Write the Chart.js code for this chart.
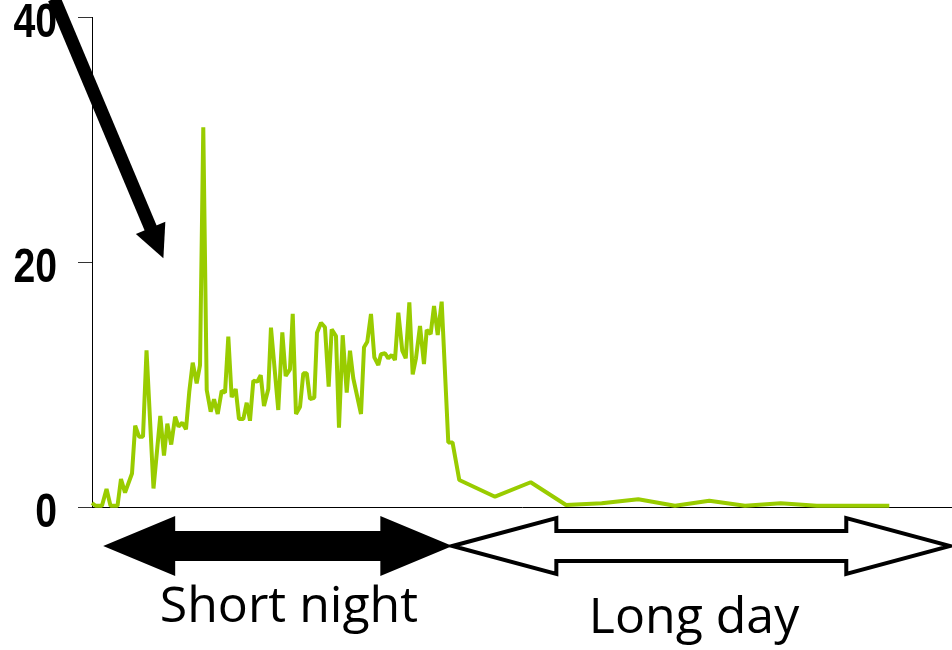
<!DOCTYPE html>
<html>
<head>
<meta charset="utf-8">
<script src="https://cdn.jsdelivr.net/npm/chart.js@4.4.1/dist/chart.umd.min.js"></script>
<style>
  html, body { margin: 0; padding: 0; background: #fff; }
  #wrap { width: 952px; height: 650px; }
</style>
</head>
<body>
<div id="wrap"><canvas id="lineChart" width="952" height="650"></canvas></div>
<script>
// time along the run (arbitrary units, 0..100 across the plot)
const times = [0,0.41,1.16,1.69,2.15,2.97,3.37,3.84,4.65,5.02,
  5.47,5.93,6.34,7.15,7.94,8.37,8.76,9.21,9.67,10.06,
  10.5,10.93,11.31,11.71,12.17,12.56,12.94,13.34,13.8,14.19,
  14.62,15.08,15.47,15.85,16.24,16.71,17.09,17.59,17.99,18.37,
  18.76,19.22,19.62,20,20.5,20.81,21.66,22.13,22.52,23.02,
  23.34,23.72,24.19,24.57,24.97,25.35,25.85,26.16,26.63,27.09,
  27.52,27.87,28.37,28.72,29.15,29.62,30,30.38,31.28,31.63,
  32.01,32.44,32.83,33.29,33.6,34.07,34.45,34.85,35.23,35.62,
  36.08,36.48,36.9,37.29,37.67,38.14,38.6,38.92,39.38,39.77,
  40.2,40.66,41.43,41.92,42.71,46.86,51.01,55.12,59.27,63.52,
  67.79,71.78,75.93,80.08,84.27,88.52,92.71];

const values = [0.33,0.1,0.1,1.47,0.1,0.1,2.29,1.17,2.73,6.65,
  5.74,5.74,12.78,1.51,7.43,4.2,6.8,5.1,7.37,6.56,
  6.88,6.34,9.41,11.78,10.1,11.59,31.0,9.55,7.78,8.79,
  7.59,9.49,9.33,13.9,8.96,9.63,7.18,7.18,8.51,7.04,
  10.31,10.23,10.75,8.24,9.63,14.64,7.92,14.26,10.69,11.24,
  15.76,7.59,8.19,10.91,10.91,8.82,8.92,14.23,15.04,14.67,
  9.82,14.51,13.96,6.47,14.02,9.33,12.76,10.51,7.59,13.04,
  13.49,15.76,12.22,11.59,12.47,12.55,12.14,12.41,12,15.86,
  12.76,12.14,16.71,10.83,12.14,14.78,11.67,14.45,14.12,16.41,
  14.04,16.76,5.27,5.27,2.2,0.84,2.02,0.16,0.3,0.63,
  0.1,0.51,0.1,0.3,0.1,0.1,0.1];

const yTicks = [0, 20, 40];

// periods shown under the axis
const periodLabels = ['Short night', 'Long day'];
const periodStart = [1.3, 41.9];
const periodEnd = [41.9, 99.8];
const periodTextAt = [22.9, 70.0];
const periodFilled = [true, false];

// pointer arrow (data coords): tail -> tip
const pointerFrom = { x: -4.4, y: 41.5 };
const pointerTo = { x: 8.3, y: 20.3 };

const points = times.map((t, i) => ({ x: t, y: values[i] }));

function doubleArrow(ctx, x1, x2, yc, headLen, headHalf, shaftHalf) {
  ctx.beginPath();
  ctx.moveTo(x1, yc);
  ctx.lineTo(x1 + headLen, yc - headHalf);
  ctx.lineTo(x1 + headLen, yc - shaftHalf);
  ctx.lineTo(x2 - headLen, yc - shaftHalf);
  ctx.lineTo(x2 - headLen, yc - headHalf);
  ctx.lineTo(x2, yc);
  ctx.lineTo(x2 - headLen, yc + headHalf);
  ctx.lineTo(x2 - headLen, yc + shaftHalf);
  ctx.lineTo(x1 + headLen, yc + shaftHalf);
  ctx.lineTo(x1 + headLen, yc + headHalf);
  ctx.closePath();
}

// narrow bold tick labels (no narrow font installed, so squeeze Liberation Sans)
const narrowTicks = {
  id: 'narrowTicks',
  afterDraw(chart) {
    const ctx = chart.ctx, ys = chart.scales.y;
    ctx.save();
    ctx.fillStyle = '#000';
    ctx.font = 'bold 49px "Liberation Sans"';
    ctx.textAlign = 'right';
    ctx.textBaseline = 'alphabetic';
    ys.ticks.forEach(t => {
      const y = ys.getPixelForValue(t.value);
      ctx.save();
      ctx.translate(57, y + 20);
      ctx.scale(0.8, 1);
      ctx.fillText(String(t.value), 0, 0);
      ctx.restore();
    });
    ctx.restore();
  }
};

const decorations = {
  id: 'decorations',
  afterDraw(chart) {
    const ctx = chart.ctx;
    const xs = chart.scales.x, ys = chart.scales.y;
    ctx.save();
    // period arrows + labels
    for (let i = 0; i < periodLabels.length; i++) {
      const a = xs.getPixelForValue(periodStart[i]);
      const b = xs.getPixelForValue(periodEnd[i]);
      if (periodFilled[i]) {
        doubleArrow(ctx, a, b, 546, 72, 30, 15);
        ctx.fillStyle = '#000';
        ctx.fill();
      } else {
        doubleArrow(ctx, a, b, 546, 104, 28, 15);
        ctx.lineWidth = 4;
        ctx.lineJoin = 'miter';
        ctx.strokeStyle = '#000';
        ctx.stroke();
      }
      ctx.fillStyle = '#000';
      ctx.font = '50px "Open Sans"';
      ctx.textAlign = 'center';
      ctx.textBaseline = 'alphabetic';
      ctx.fillText(periodLabels[i], xs.getPixelForValue(periodTextAt[i]), i === 0 ? 622 : 633);
    }
    // pointer arrow
    const x0 = xs.getPixelForValue(pointerFrom.x), y0 = ys.getPixelForValue(pointerFrom.y);
    const x1 = xs.getPixelForValue(pointerTo.x), y1 = ys.getPixelForValue(pointerTo.y);
    const ang = Math.atan2(y1 - y0, x1 - x0);
    const hl = 33, hw = 16;
    const bx = x1 - hl * Math.cos(ang), by = y1 - hl * Math.sin(ang);
    ctx.beginPath();
    ctx.moveTo(x0, y0);
    ctx.lineTo(bx + 2 * Math.cos(ang), by + 2 * Math.sin(ang));
    ctx.lineWidth = 13;
    ctx.lineCap = 'butt';
    ctx.strokeStyle = '#000';
    ctx.stroke();
    ctx.beginPath();
    ctx.moveTo(x1, y1);
    ctx.lineTo(bx + hw * Math.sin(ang), by - hw * Math.cos(ang));
    ctx.lineTo(bx - hw * Math.sin(ang), by + hw * Math.cos(ang));
    ctx.closePath();
    ctx.fillStyle = '#000';
    ctx.fill();
    ctx.restore();
  }
};

new Chart(document.getElementById('lineChart').getContext('2d'), {
  type: 'line',
  data: {
    datasets: [{
      data: points,
      borderColor: '#99cc00',
      borderWidth: 4,
      borderJoinStyle: 'bevel',
      pointRadius: 0,
      tension: 0,
      fill: false,
      clip: false
    }]
  },
  options: {
    responsive: false,
    animation: false,
    devicePixelRatio: 1,
    layout: { autoPadding: false, padding: { top: 17, right: 0, left: 0, bottom: 0 } },
    plugins: { legend: { display: false }, tooltip: { enabled: false } },
    scales: {
      x: {
        type: 'linear',
        min: 0,
        max: 100,
        ticks: { display: false },
        grid: { drawOnChartArea: false, drawTicks: false },
        border: { color: '#000', width: 1 },
        afterFit: s => { s.height = 143; s.paddingLeft = 0; s.paddingRight = 0; }
      },
      y: {
        type: 'linear',
        min: 0,
        max: 40,
        afterBuildTicks: s => { s.ticks = yTicks.map(v => ({ value: v })); },
        ticks: { display: false },
        grid: { drawOnChartArea: false, tickLength: 14, color: '#333' },
        border: { color: '#000', width: 1 },
        afterFit: s => { s.width = 92; s.paddingTop = 0; s.paddingBottom = 0; }
      }
    }
  },
  plugins: [narrowTicks, decorations]
});
</script>
</body>
</html>
